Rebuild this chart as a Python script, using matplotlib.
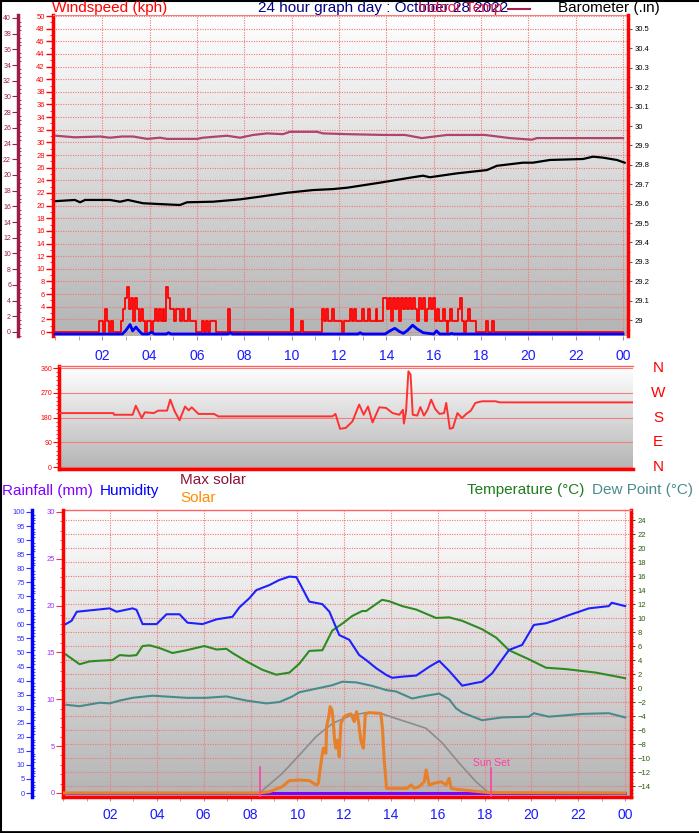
import numpy as np
import matplotlib
matplotlib.use("Agg")
import matplotlib.pyplot as plt
import matplotlib.transforms as mtransforms
from matplotlib.colors import LinearSegmentedColormap
from matplotlib.ticker import MultipleLocator, FuncFormatter
from matplotlib.lines import Line2D

plt.rcParams['font.family'] = ['Liberation Sans', 'DejaVu Sans']

W, H = 699, 833

hour_ticks = list(range(2, 25, 2))
hour_labels = ['02', '04', '06', '08', '10', '12', '14', '16', '18', '20', '22', '00']

# wind gusts (kph), 5 minute readings, one row per hour
gust_rows = [
    [0] * 12,
    [0, 0, 0, 0, 0, 0, 0, 0, 0, 0, 0, 1.8],
    [1.8, 0, 3.6, 1.8, 0, 1.8, 0, 0, 0, 0, 1.8, 3.6],
    [5.4, 7.2, 3.6, 5.4, 1.8, 5.4, 3.6, 1.8, 3.6, 1.8, 0, 1.8],
    [1.8, 0, 1.8, 3.6, 1.8, 3.6, 1.8, 3.6, 1.8, 7.2, 5.4, 3.6],
    [3.6, 1.8, 3.6, 3.6, 1.8, 3.6, 1.8, 1.8, 3.6, 1.8, 1.8, 1.8],
    [0, 0, 0, 1.8, 0, 1.8, 0, 1.8, 1.8, 1.8, 0, 0],
    [0, 0, 0, 0, 3.6, 0, 0, 0, 0, 0, 0, 0],
    [0] * 12,
    [0] * 12,
    [3.6, 0, 0, 0, 0, 1.8, 0, 0, 0, 0, 0, 0],
    [0, 0, 0, 0, 3.6, 1.8, 3.6, 1.8, 1.8, 3.6, 1.8, 1.8],
    [1.8, 1.8, 0, 1.8, 1.8, 1.8, 3.6, 1.8, 3.6, 1.8, 1.8, 1.8],
    [3.6, 1.8, 1.8, 3.6, 1.8, 1.8, 1.8, 3.6, 1.8, 1.8, 1.8, 5.4],
    [5.4, 3.6, 5.4, 1.8, 5.4, 3.6, 5.4, 1.8, 5.4, 3.6, 5.4, 3.6],
    [5.4, 3.6, 5.4, 3.6, 1.8, 5.4, 3.6, 5.4, 1.8, 3.6, 5.4, 3.6],
    [5.4, 1.8, 3.6, 1.8, 1.8, 3.6, 1.8, 0, 1.8, 3.6, 1.8, 1.8],
    [1.8, 3.6, 5.4, 1.8, 0, 1.8, 3.6, 1.8, 1.8, 1.8, 0, 0],
    [0, 0, 0, 1.8, 0, 0, 1.8, 0, 0, 0, 0, 0],
    [0] * 12,
    [0] * 12,
    [0] * 12,
    [0] * 12,
    [0] * 12,
]

# average wind speed (kph)
avg_hours = [0, 2.85, 3.0, 3.17, 3.28, 3.42, 3.55, 3.68, 3.95, 4.07, 4.2, 4.7, 4.8, 4.9,
             7.3, 7.4, 7.5, 12.8, 12.89, 13.0, 13.95, 14.15, 14.36, 14.55, 14.72, 14.9,
             15.11, 15.3, 15.56, 16.0, 16.12, 16.25, 16.68, 16.76, 16.85, 24]
avg_kph = [0, 0, 0.6, 1.5, 0.5, 1.1, 0.5, 0, 0, 0.3, 0, 0, 0.2, 0,
           0, 0.2, 0, 0, 0.2, 0, 0, 0.5, 0.9, 0.4, 0.1, 0.6,
           1.4, 0.8, 0.2, 0, 0.5, 0, 0, 0.1, 0, 0]

# indoor temperature (C)
indoor_hours = [0.04, 0.84, 1.90, 2.32, 2.83, 3.30, 3.89, 4.44, 4.73, 6.00, 6.25, 7.27, 7.82,
                8.37, 8.96, 9.63, 9.93, 11.07, 11.32, 12.34, 13.94, 14.79, 15.50, 16.56,
                18.17, 19.22, 20.15, 20.36, 24.0]
indoor_c = [25.0, 24.8, 24.9, 24.75, 24.9, 24.9, 24.6, 24.75, 24.6, 24.6, 24.75, 25.0, 24.75,
            25.1, 25.3, 25.2, 25.5, 25.5, 25.3, 25.2, 25.1, 25.1, 24.7, 25.1,
            25.1, 24.7, 24.5, 24.7, 24.7]

# barometer (inHg)
baro_hours = [0.04, 0.84, 1.06, 1.27, 2.32, 2.75, 3.08, 3.72, 4.73, 5.28, 5.58, 6.68, 7.82,
              8.66, 9.80, 10.90, 11.74, 12.34, 13.73, 15.12, 15.55, 15.84, 16.98, 18.25,
              18.67, 19.77, 20.19, 20.91, 22.31, 22.73, 23.15, 23.74, 24.07]
baro_in = [29.613, 29.619, 29.607, 29.619, 29.619, 29.610, 29.619, 29.602, 29.596, 29.593,
           29.607, 29.610, 29.622, 29.636, 29.656, 29.670, 29.675, 29.682, 29.708, 29.736,
           29.744, 29.736, 29.756, 29.773, 29.795, 29.811, 29.811, 29.825, 29.830, 29.842,
           29.837, 29.825, 29.811]

# wind direction (degrees)
dir_hours = [0, 2.28, 2.30, 3.08, 3.21, 3.46, 3.59, 3.96, 4.15, 4.52, 4.65, 4.84, 5.04, 5.27,
             5.42, 5.55, 5.83, 6.48, 6.67, 11.43, 11.56, 11.75, 11.99, 12.27, 12.55, 12.74,
             12.92, 13.11, 13.39, 13.67, 13.95, 14.23, 14.38, 14.42, 14.51, 14.61, 14.70,
             14.79, 14.98, 15.11, 15.26, 15.41, 15.56, 15.73, 15.91, 16.10, 16.19, 16.34,
             16.47, 16.66, 16.85, 17.03, 17.22, 17.41, 17.69, 18.25, 18.43, 24]
dir_deg = [196, 196, 190, 190, 223, 178, 199, 196, 205, 205, 245, 202, 170, 220,
           206, 217, 193, 193, 184, 184, 193, 139, 142, 166, 227, 190,
           220, 162, 217, 215, 196, 190, 208, 158, 202, 348, 336,
           190, 187, 218, 187, 208, 245, 211, 193, 196, 233, 139,
           142, 196, 178, 193, 205, 233, 239, 239, 235, 235]

# outdoor temperature and dew point (C)
temp_hours = [0.11, 0.70, 1.13, 1.56, 2.11, 2.41, 2.84, 3.13, 3.39, 3.69, 4.12, 4.67, 5.27,
              6.03, 6.55, 6.97, 7.23, 7.83, 8.51, 9.10, 9.66, 10.09, 10.51, 11.07, 11.49,
              11.92, 12.35, 12.77, 12.94, 13.62, 13.92, 14.48, 15.08, 15.93, 16.48, 17.04,
              17.89, 18.49, 19.04, 19.89, 20.62, 21.47, 22.75, 24.0]
temp_c = [4.8, 3.4, 3.8, 3.9, 4.0, 4.7, 4.6, 4.7, 6.0, 6.1, 5.7, 5.0, 5.4,
          6.0, 5.5, 5.6, 5.0, 3.8, 2.6, 1.9, 2.2, 3.5, 5.3, 5.4, 8.2,
          9.2, 10.3, 11.0, 11.0, 12.6, 12.4, 11.7, 11.2, 10.0, 10.1, 9.6,
          8.4, 7.2, 5.4, 4.1, 2.9, 2.7, 2.2, 1.4]

dew_hours = [0.14, 0.70, 1.56, 1.98, 2.41, 2.96, 3.82, 5.27, 6.12, 6.97, 7.83, 8.68, 9.24,
             9.79, 10.09, 10.94, 11.49, 11.92, 12.52, 13.20, 13.80, 14.22, 14.90, 15.50,
             16.06, 16.48, 16.78, 17.04, 17.89, 18.74, 19.89, 20.10, 20.74, 22.15, 23.30, 24.0]
dew_c = [-2.4, -2.6, -2.1, -2.2, -1.8, -1.4, -1.1, -1.4, -1.4, -1.2, -1.8, -2.2, -2.0,
         -1.2, -0.6, 0.0, 0.4, 0.9, 0.8, 0.3, -0.3, -0.5, -1.5, -1.1,
         -0.8, -1.6, -2.9, -3.5, -4.6, -4.2, -4.1, -3.6, -4.1, -3.7, -3.6, -4.2]

# humidity (%)
hum_hours = [0.11, 0.36, 0.58, 1.98, 2.28, 2.96, 3.13, 3.39, 3.99, 4.41, 4.97, 5.31, 5.95,
             6.55, 7.23, 7.53, 7.95, 8.25, 8.81, 9.23, 9.66, 9.96, 10.21, 10.51, 11.07,
             11.37, 11.79, 12.22, 12.64, 12.94, 13.37, 13.80, 14.05, 14.48, 15.08, 15.63,
             16.06, 16.48, 17.04, 17.63, 17.89, 18.32, 18.70, 19.04, 19.60, 20.10, 20.62,
             21.05, 21.60, 22.03, 22.45, 23.30, 23.43, 24.0]
hum_pct = [60.1, 61.3, 64.5, 65.7, 64.5, 65.7, 65.2, 60.1, 60.1, 63.6, 63.6, 60.6, 60.1,
           61.8, 62.7, 66.1, 69.3, 72.2, 74.0, 75.8, 77.0, 76.8, 72.9, 68.1, 67.2,
           64.5, 56.2, 54.5, 49.1, 47.3, 44.4, 42.0, 41.0, 41.4, 41.8, 44.9,
           47.0, 43.5, 38.2, 39.2, 39.6, 42.6, 47.0, 50.9, 52.7, 59.8, 60.4,
           61.6, 63.3, 64.5, 65.7, 66.5, 67.7, 66.5]

# solar radiation and clear sky maximum (W/m2)
solar_hours = [0, 8.38, 8.81, 9.36, 9.66, 10.09, 10.51, 10.81, 10.90, 10.97, 11.05, 11.11,
               11.22, 11.25, 11.34, 11.40, 11.48, 11.54, 11.59, 11.65, 11.72, 11.79, 11.86,
               12.00, 12.14, 12.29, 12.43, 12.53, 12.61, 12.72, 12.82, 12.86, 12.90, 13.07,
               13.57, 13.64, 13.71, 13.81, 13.92, 14.69, 14.86, 14.99, 15.20, 15.42, 15.50,
               15.63, 15.84, 16.14, 16.35, 16.48, 16.57, 16.78, 17.46, 18.19, 24]
solar_wm2 = [0, 0, 7, 34, 66, 69, 66, 43, 52, 123, 194, 239,
             212, 354, 407, 461, 443, 372, 283, 239, 283, 194, 372,
             407, 416, 422, 381, 434, 381, 274, 239, 319, 422, 429,
             425, 336, 176, 25, 25, 25, 43, 25, 34, 60, 123,
             43, 52, 60, 43, 78, 25, 20, 11, 2, 0]

maxsol_hours = [8.38, 9.36, 10.09, 10.80, 11.51, 12.22, 12.93, 13.64, 14.35, 14.78, 15.50,
                16.19, 16.91, 17.63, 18.19]
maxsol_wm2 = [0, 105, 203, 301, 372, 411, 429, 422, 392, 375, 345, 267, 160, 60, 0]

# rainfall (mm)
rain_hours = [0, 24]
rain_mm = [0, 0]

sunrise_h = 8.40
sunset_h = 18.27


def fx(px):
    return px / W


def fy(py):
    return 1 - py / H


def box(x0, y0, x1, y1):
    return [fx(x0), fy(y1), (x1 - x0) / W, (y1 - y0) / H]


bg = LinearSegmentedColormap.from_list('bg', ['#b4b4b4', '#ffffff'])


def shade(ax):
    ax.imshow(np.linspace(1, 0, 256).reshape(-1, 1), cmap=bg, aspect='auto',
              extent=[0, 1, 0, 1], transform=ax.transAxes, zorder=0)


grid_kw = dict(color='#f07878', lw=0.8, ls=(0, (1, 1.2)))

fig = plt.figure(figsize=(W / 100, H / 100), dpi=100)

# ---------------- wind / barometer panel ----------------
ax1 = fig.add_axes(box(53, 15, 628, 336))
axb = ax1.twinx()
axi = ax1.twinx()
ax1.yaxis.tick_left()
shade(ax1)
g = np.append(np.concatenate(gust_rows), 0.0)
t = np.arange(g.size) / 12
ax1.plot(t, g, color='#ff0000', lw=1.3, drawstyle='steps-mid', zorder=3)
down = ax1.transData + mtransforms.ScaledTranslation(0, -0.02, fig.dpi_scale_trans)
ax1.plot(avg_hours, avg_kph, color='#0000ff', lw=2, transform=down, zorder=4)
ax1.set_xlim(-0.085, 24.21)
ax1.set_ylim(-0.63, 50.16)
ax1.set_xticks(hour_ticks)
ax1.set_xticklabels(hour_labels)
ax1.xaxis.set_minor_locator(MultipleLocator(1))
ax1.set_yticks(range(0, 51, 2))
ax1.yaxis.set_minor_locator(MultipleLocator(1))
ax1.set_axisbelow(True)
ax1.grid(True, **grid_kw)
ax1.tick_params(axis='x', which='both', length=3, color='#9a9a9a', labelcolor='#1a1aff',
                labelsize=10, pad=6)
ax1.tick_params(axis='y', which='major', length=5, width=1, color='red', labelcolor='red',
                labelsize=5.5, pad=1)
ax1.tick_params(axis='y', which='minor', length=2.5, color='red')
ax1.spines['right'].set_visible(False)
ax1.spines['bottom'].set_visible(False)
ax1.spines['left'].set_color('red')
ax1.spines['left'].set_linewidth(2.5)
ax1.spines['top'].set_color('#f08080')
ax1.spines['top'].set_linewidth(0.8)

axb.plot(baro_hours, baro_in, color='black', lw=1.6)
axb.set_ylim(28.918, 30.572)
axb.set_yticks(np.round(np.arange(29.0, 30.55, 0.1), 1))
axb.yaxis.set_major_formatter(FuncFormatter(lambda v, p: f'{v:g}'))
axb.yaxis.set_minor_locator(MultipleLocator(0.05))
axb.tick_params(axis='y', which='major', length=3, color='#606060', labelcolor='black',
                labelsize=5.5, pad=2)
axb.tick_params(axis='y', which='minor', length=1.5, color='#808080')
for s in ['left', 'top', 'bottom']:
    axb.spines[s].set_visible(False)
axb.spines['right'].set_color('red')
axb.spines['right'].set_linewidth(2.5)

axi.plot(indoor_hours, indoor_c, color='#b0446c', lw=1.6)
axi.set_ylim(-0.51, 40.38)
axi.yaxis.tick_left()
axi.spines['left'].set_position(('outward', 25.2))
axi.spines['left'].set_visible(True)
for s in ['right', 'top', 'bottom']:
    axi.spines[s].set_visible(False)
axi.spines['left'].set_color('#9b1b4b')
axi.spines['left'].set_linewidth(2.5)
axi.set_yticks(range(0, 41, 2))
axi.yaxis.set_minor_locator(MultipleLocator(0.5))
axi.tick_params(axis='y', which='major', length=4, color='#9b1b4b', labelcolor='#9b1b4b',
                labelsize=5, pad=1)
axi.tick_params(axis='y', which='minor', length=2, direction='in', color='#9b1b4b')

fig.text(fx(52), fy(8), 'Windspeed (kph)', color='#ff0000', fontsize=11, va='center')
fig.text(fx(258), fy(8), '24 hour graph day : October 28 2022', color='#000080',
         fontsize=11, va='center')
fig.text(fx(418), fy(8), 'Indoor Temp', color='#d01040', fontsize=11, va='center')
fig.add_artist(Line2D([fx(508), fx(530)], [fy(9), fy(9)], color='#a0204a', lw=1.5))
fig.text(fx(558), fy(8), 'Barometer (.in)', color='black', fontsize=11, va='center')

# ---------------- wind direction panel ----------------
ax2 = fig.add_axes(box(59, 366, 633, 469))
shade(ax2)
ax2.plot(dir_hours, dir_deg, color='#ff3030', lw=1.4, zorder=3)
ax2.set_xlim(0, 24)
ax2.set_ylim(-7.27, 367.3)
ax2.set_xticks([])
ax2.set_yticks([0, 90, 180, 270, 360])
ax2.yaxis.set_minor_locator(MultipleLocator(15))
ax2.set_axisbelow(True)
ax2.grid(True, axis='y', color='#f08080', lw=0.8)
ax2.tick_params(axis='y', which='major', length=4, color='red', labelcolor='red',
                labelsize=5, pad=1)
ax2.tick_params(axis='y', which='minor', length=2, color='red')
ax2.spines['right'].set_visible(False)
ax2.spines['left'].set_color('red')
ax2.spines['left'].set_linewidth(2.5)
ax2.spines['bottom'].set_color('red')
ax2.spines['bottom'].set_linewidth(2.5)
ax2.spines['top'].set_color('#ff6060')
ax2.spines['top'].set_linewidth(1)
side = mtransforms.blended_transform_factory(ax2.transAxes, ax2.transData)
for lbl, deg in zip(['N', 'W', 'S', 'E', 'N'], [360, 270, 180, 90, 0]):
    ax2.text(1.0436, deg, lbl, transform=side, color='#ff0000', fontsize=11,
             ha='center', va='center', clip_on=False)

# ---------------- temperature / humidity / solar panel ----------------
ax3 = fig.add_axes(box(63, 510, 631, 797))
axr = ax3.twinx()
axh = ax3.twinx()
axs = ax3.twinx()
ax3.yaxis.tick_right()
shade(ax3)
ax3.plot(temp_hours, temp_c, color='#2e8b22', lw=1.5, zorder=3)
ax3.plot(dew_hours, dew_c, color='#4a8a8a', lw=1.5, zorder=3)
ax3.set_xlim(-0.0085, 24.25)
ax3.set_ylim(-15.57, 25.43)
ax3.set_yticks(range(-14, 25, 2))
ax3.yaxis.set_minor_locator(MultipleLocator(0.5))
ax3.set_xticks(hour_ticks)
ax3.set_xticklabels(hour_labels)
ax3.xaxis.set_minor_locator(MultipleLocator(1))
ax3.set_axisbelow(True)
ax3.grid(True, **grid_kw)
ax3.tick_params(axis='x', which='both', length=3, color='#9a9a9a', labelcolor='#1a1aff',
                labelsize=10, pad=5)
ax3.tick_params(axis='y', which='major', length=3, color='#2d5a0a', labelcolor='#2d5a0a',
                labelsize=5.5, pad=2)
ax3.tick_params(axis='y', which='minor', length=1.5, color='#2d5a0a')
ax3.spines['left'].set_visible(False)
for s in ['right', 'bottom']:
    ax3.spines[s].set_color('red')
    ax3.spines[s].set_linewidth(2.5)
ax3.spines['top'].set_color('#ff6060')
ax3.spines['top'].set_linewidth(1)

axr.plot(rain_hours, rain_mm, color='#8000ff', lw=2.2)
axr.set_ylim(-0.43, 30.2)
axr.yaxis.tick_left()
axr.set_yticks(range(0, 31, 5))
axr.yaxis.set_minor_locator(MultipleLocator(1))
axr.tick_params(axis='y', which='major', length=5, color='#ff3030', labelcolor='#9933ff',
                labelsize=5.5, pad=1)
axr.tick_params(axis='y', which='minor', length=2.5, color='#ff3030')
for s in ['right', 'top', 'bottom']:
    axr.spines[s].set_visible(False)
axr.spines['left'].set_visible(True)
axr.spines['left'].set_color('red')
axr.spines['left'].set_linewidth(2.5)

axh.plot(hum_hours, hum_pct, color='#2020ff', lw=1.5)
axh.set_ylim(-1.42, 100.7)
axh.yaxis.tick_left()
axh.spines['left'].set_position(('outward', 22.3))
axh.spines['left'].set_visible(True)
for s in ['right', 'top', 'bottom']:
    axh.spines[s].set_visible(False)
axh.spines['left'].set_color('#0000ff')
axh.spines['left'].set_linewidth(2.5)
axh.set_yticks(range(0, 101, 5))
axh.yaxis.set_minor_locator(MultipleLocator(1))
axh.tick_params(axis='y', which='major', length=4, color='#3333ff', labelcolor='#3333ff',
                labelsize=5.5, pad=1)
axh.tick_params(axis='y', which='minor', length=2, direction='in', color='#3333ff')

axs.plot(maxsol_hours, maxsol_wm2, color='#8c8c8c', lw=1.2)
axs.plot(solar_hours, solar_wm2, color='#e8802a', lw=2.2)
axs.set_ylim(-21.4, 1510.7)
axs.set_yticks([])
for s in axs.spines.values():
    s.set_visible(False)
axs.axvline(sunrise_h, ymin=0, ymax=0.105, color='#ff40a0', lw=1.2)
axs.axvline(sunset_h, ymin=0, ymax=0.101, color='#ff40a0', lw=1.2)
mark = mtransforms.blended_transform_factory(axs.transData, axs.transAxes)
axs.text(sunset_h, 0.118, 'Sun Set', transform=mark, color='#ff40a0', fontsize=7.5,
         ha='center', va='center')

fig.text(fx(2), fy(491), 'Rainfall (mm)', color='#8000ff', fontsize=11, va='center')
fig.text(fx(100), fy(491), 'Humidity', color='#0000ff', fontsize=11, va='center')
fig.text(fx(180), fy(480), 'Max solar', color='#8b1538', fontsize=11, va='center')
fig.text(fx(180), fy(498), 'Solar', color='#ff8c00', fontsize=11, va='center')
fig.text(fx(467), fy(490), 'Temperature (°C)', color='#1e7b1e', fontsize=11, va='center')
fig.text(fx(592), fy(490), 'Dew Point (°C)', color='#4b8b8b', fontsize=11, va='center')

# outer frame
fig.add_artist(Line2D([0.001, 0.001], [0, 1], color='black', lw=1.5))
fig.add_artist(Line2D([0, 1], [0.999, 0.999], color='black', lw=1.5))
fig.add_artist(Line2D([0, 1], [0.0015, 0.0015], color='black', lw=2))

fig.savefig('out.png', dpi=100)
